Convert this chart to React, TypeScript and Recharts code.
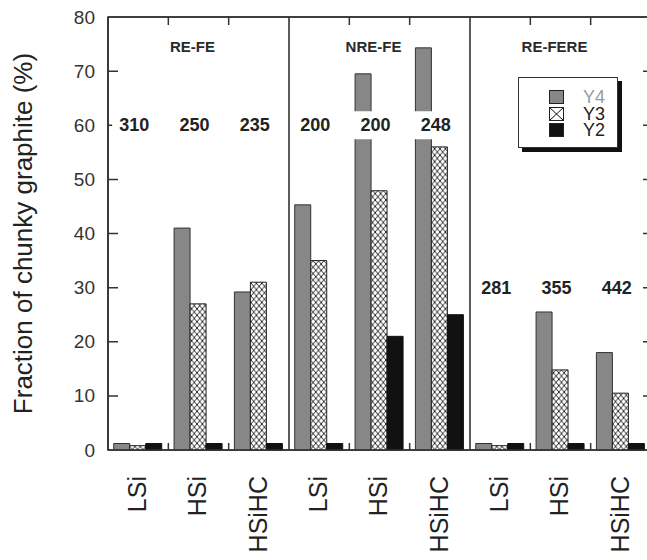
import React from 'react';
import { BarChart, Bar, XAxis, YAxis, ReferenceLine, ReferenceArea, Legend } from 'recharts';

const panels = ['RE-FE', 'NRE-FE', 'RE-FERE'];
const alloys = ['LSi', 'HSi', 'HSiHC'];
const seriesNames = ['Y4', 'Y3', 'Y2'];
const y4Values = [1.2, 41, 29.2, 45.3, 69.5, 74.3, 1.2, 25.5, 18];
const y3Values = [0.8, 27, 31, 35, 47.9, 56, 0.8, 14.8, 10.5];
const y2Values = [1.2, 1.2, 1.2, 1.2, 21, 25, 1.2, 1.2, 1.2];
const counts = [310, 250, 235, 200, 200, 248, 281, 355, 442];
const countLevels = [60, 60, 60, 60, 60, 60, 30, 30, 30];
const yTicks = [0, 10, 20, 30, 40, 50, 60, 70, 80];
const titleLevel = 74.5;

const FONT = '"Liberation Sans", Arial, sans-serif';
const INK = '#333333';

const data = panels.flatMap((p, pi) =>
  alloys.map((a, ai) => {
    const i = pi * alloys.length + ai;
    return { key: `${p}|${a}`, alloy: a, y4: y4Values[i], y3: y3Values[i], y2: y2Values[i] };
  })
);

const seriesStyle = [
  { fill: '#878787', stroke: '#333', text: '#9a9a9a' },
  { fill: 'url(#hatch)', stroke: '#222', text: '#222' },
  { fill: '#111', stroke: '#111', text: '#222' },
];

const Full = (p: any) => (
  <path d={`M${p.x1},${p.y1}L${p.x2},${p.y2}`} stroke={INK} strokeWidth={1.6} fill="none" />
);

const NoLine = () => <g />;

// short inward marks at top and bottom of a category boundary
const VMarks = (p: any) => {
  const top = Math.min(p.y1, p.y2);
  const bot = Math.max(p.y1, p.y2);
  return (
    <path
      d={`M${p.x1},${top}L${p.x1},${top + 8}M${p.x1},${bot}L${p.x1},${bot - 7}`}
      stroke={INK}
      strokeWidth={1.5}
      fill="none"
    />
  );
};

// short inward marks on the left and right frame for a y tick
const HMarks = (p: any) => {
  const left = Math.min(p.x1, p.x2);
  const right = Math.max(p.x1, p.x2);
  return (
    <path
      d={`M${left},${p.y1}L${left + 10},${p.y1}M${right},${p.y1}L${right - 8},${p.y1}`}
      stroke={INK}
      strokeWidth={1.5}
      fill="none"
    />
  );
};

const YTick = (props: any) => {
  const { x, y, payload } = props;
  return (
    <text x={x} y={y} textAnchor="end" dominantBaseline="central" fontSize={19} fill="#333" fontFamily={FONT}>
      {payload.value}
    </text>
  );
};

const CountLabel = (props: any) => {
  const { viewBox, text } = props;
  const cx = viewBox.x + viewBox.width / 2 - 4;
  const cy = viewBox.y + viewBox.height / 2;
  return (
    <g>
      <rect x={cx - 22} y={cy - 14} width={44} height={28} fill="#fff" />
      <text x={cx} y={cy} textAnchor="middle" dominantBaseline="central" fontSize={18} fontWeight="bold" fill="#222" fontFamily={FONT}>
        {text}
      </text>
    </g>
  );
};

const TitleLabel = (props: any) => {
  const { viewBox, text } = props;
  const cx = viewBox.x + viewBox.width / 2 - 6;
  const cy = viewBox.y + viewBox.height / 2;
  return (
    <text x={cx} y={cy} textAnchor="middle" dominantBaseline="central" fontSize={15} fontWeight="bold" fill="#2a2a2a" fontFamily={FONT}>
      {text}
    </text>
  );
};

const crossBg =
  'linear-gradient(to top right, transparent calc(50% - 0.8px), #222 50%, transparent calc(50% + 0.8px)),' +
  'linear-gradient(to bottom right, transparent calc(50% - 0.8px), #222 50%, transparent calc(50% + 0.8px))';

const LegendBox = () => (
  <div
    style={{
      width: 100,
      height: 71,
      border: '1px solid #333',
      boxShadow: '4px 4px 0 #111',
      background: '#fff',
      boxSizing: 'border-box',
      paddingTop: 11,
      fontFamily: FONT,
    }}
  >
    {seriesNames.map((name, i) => (
      <div key={`leg-${name}`} style={{ display: 'flex', alignItems: 'center', height: 16.5, marginLeft: 30 }}>
        <div
          style={{
            width: 15,
            height: 14,
            boxSizing: 'border-box',
            border: '1px solid #222',
            background: i === 1 ? crossBg : seriesStyle[i].fill,
          }}
        />
        <span style={{ marginLeft: 19, fontSize: 18, lineHeight: '16px', color: seriesStyle[i].text }}>{name}</span>
      </div>
    ))}
  </div>
);

export default function App() {
  const first = data[0].key;
  const last = data[data.length - 1].key;
  return (
    <div style={{ position: 'fixed', left: 8, top: 8, width: 639, height: 552, overflow: 'hidden', background: '#fff' }}>
      <svg width={0} height={0} style={{ position: 'absolute' }}>
        <defs>
          <pattern id="hatch" patternUnits="userSpaceOnUse" width={5.4} height={6.4}>
            <rect width={5.4} height={6.4} fill="#fff" />
            <path d="M0,0 L5.4,6.4 M5.4,0 L0,6.4" stroke="#111" strokeWidth={0.9} />
          </pattern>
        </defs>
      </svg>
      <BarChart
        width={660}
        height={552}
        data={data}
        margin={{ top: 9, right: 17, bottom: 0, left: 0 }}
        barCategoryGap="9.5%"
        barGap={0}
      >
        <XAxis
          dataKey="key"
          interval={0}
          height={110}
          tickLine={false}
          tickMargin={20}
          angle={-90}
          tickFormatter={(v: string) => String(v).split('|')[1]}
          tick={{ fontSize: 25, fill: '#222', fontFamily: FONT, textAnchor: 'end', verticalAnchor: 'middle', dx: -10 }}
          axisLine={{ stroke: INK, strokeWidth: 1.6 }}
        />
        <YAxis
          width={100}
          domain={[0, 80]}
          ticks={yTicks}
          tickLine={false}
          tickMargin={7}
          axisLine={{ stroke: INK, strokeWidth: 1.6 }}
          tick={<YTick />}
          label={{
            value: 'Fraction of chunky graphite (%)',
            angle: -90,
            position: 'center',
            dx: -35,
            style: { fontSize: 26, fill: '#222', fontFamily: FONT },
          }}
        />
        <ReferenceArea x1={first} x2={last} y1={0} y2={80} fill="none" fillOpacity={0} stroke={INK} strokeWidth={1.6} ifOverflow="visible" />
        {yTicks.slice(1, -1).map((t) => (
          <ReferenceLine key={`yt-${t}`} y={t} shape={HMarks} ifOverflow="visible" />
        ))}
        {data.map((row, i) =>
          i > 0 ? (
            <ReferenceLine
              key={`b-${row.key}`}
              x={row.key}
              position="start"
              shape={i % alloys.length === 0 ? Full : VMarks}
              ifOverflow="visible"
            />
          ) : null
        )}
        <ReferenceLine y={80} shape={Full} ifOverflow="visible" />
        <ReferenceLine x={last} position="end" shape={Full} ifOverflow="visible" />
        <Bar dataKey="y4" name={seriesNames[0]} fill={seriesStyle[0].fill} stroke={seriesStyle[0].stroke} strokeWidth={1} isAnimationActive={false} />
        <Bar dataKey="y3" name={seriesNames[1]} fill={seriesStyle[1].fill} stroke={seriesStyle[1].stroke} strokeWidth={1} isAnimationActive={false} />
        <Bar dataKey="y2" name={seriesNames[2]} fill={seriesStyle[2].fill} stroke={seriesStyle[2].stroke} strokeWidth={1} isAnimationActive={false} />
        {panels.map((p, pi) => {
          const k = data[pi * alloys.length + 1].key;
          return (
            <ReferenceLine
              key={`title-${p}`}
              segment={[{ x: k, y: titleLevel }, { x: k, y: titleLevel }]}
              shape={NoLine}
              ifOverflow="visible"
              label={<TitleLabel text={p} />}
            />
          );
        })}
        {data.map((row, i) => (
          <ReferenceLine
            key={`cnt-${row.key}`}
            segment={[{ x: row.key, y: countLevels[i] }, { x: row.key, y: countLevels[i] }]}
            shape={NoLine}
            ifOverflow="visible"
            label={<CountLabel text={counts[i]} />}
          />
        ))}
        <Legend
          layout="vertical"
          align="center"
          verticalAlign="middle"
          content={<LegendBox />}
          wrapperStyle={{ left: 510, top: 69, width: 104, height: 76 }}
        />
      </BarChart>
    </div>
  );
}
